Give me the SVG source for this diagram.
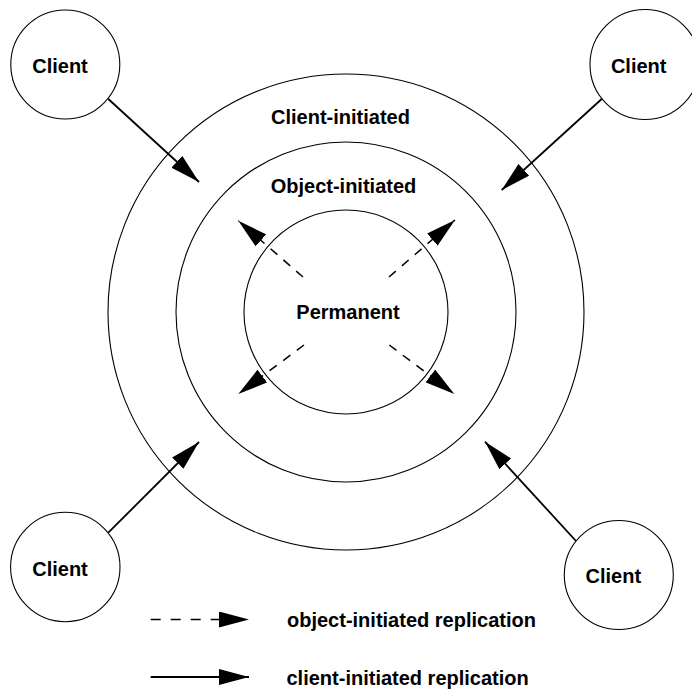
<svg xmlns="http://www.w3.org/2000/svg" width="692" height="690" viewBox="0 0 692 690">
<style>
.ring{fill:none;stroke:#000;stroke-width:1.1}
.node{fill:#fff;stroke:#000;stroke-width:1.1}
.lbl{font-family:"Liberation Sans",Arial,sans-serif;font-weight:bold;font-size:20px;fill:#000}
.mid{text-anchor:middle}
.solid{stroke:#000;stroke-width:1.8;fill:none;marker-end:url(#head)}
.dash{stroke:#000;stroke-width:1.5;fill:none;stroke-dasharray:9,8;marker-end:url(#head)}
.ldash{stroke-dasharray:10,10}
</style>
<defs>
<marker id="head" viewBox="0 0 30 16" markerWidth="30" markerHeight="16" refX="30" refY="8" orient="auto" markerUnits="userSpaceOnUse">
<path d="M0,0 L30,8 L0,16 Z" fill="#000"/>
</marker>
</defs>
<rect width="692" height="690" fill="#fff"/>
<g id="zone-client-initiated">
<circle class="ring" cx="346" cy="312" r="238"/>
<text class="lbl mid" x="340.5" y="124">Client-initiated</text>
</g>
<g id="zone-object-initiated">
<circle class="ring" cx="346" cy="312" r="170"/>
<text class="lbl mid" x="343.5" y="193">Object-initiated</text>
</g>
<g id="zone-permanent">
<circle class="ring" cx="346" cy="312" r="102"/>
<text class="lbl mid" x="348" y="319">Permanent</text>
</g>
<g id="client-tl">
<circle class="node" cx="65.3" cy="64.5" r="54.5"/>
<text class="lbl mid" x="60" y="72.7">Client</text>
</g>
<g id="client-tr">
<circle class="node" cx="645" cy="64.5" r="55"/>
<text class="lbl mid" x="638.7" y="72.7">Client</text>
</g>
<g id="client-bl">
<circle class="node" cx="65.3" cy="567" r="54.7"/>
<text class="lbl mid" x="60" y="576">Client</text>
</g>
<g id="client-br">
<circle class="node" cx="618.8" cy="575" r="54.5"/>
<text class="lbl mid" x="613.3" y="583.3">Client</text>
</g>
<g id="connectors">
<line class="solid" x1="108.3" y1="99" x2="199" y2="182"/>
<line class="solid" x1="601.7" y1="99" x2="501.7" y2="190"/>
<line class="solid" x1="108.3" y1="532.7" x2="199" y2="442"/>
<line class="solid" x1="576" y1="541" x2="485" y2="441.7"/>
<line class="dash" x1="303" y1="277" x2="238.3" y2="220.7"/>
<line class="dash" x1="389" y1="277" x2="455" y2="220"/>
<line class="dash" x1="304" y1="345" x2="238.3" y2="394"/>
<line class="dash" x1="389.3" y1="345" x2="454.3" y2="394"/>
</g>
<g id="legend">
<line class="dash ldash" x1="150.7" y1="619.5" x2="249" y2="619.5"/>
<text class="lbl" x="287" y="626.7">object-initiated replication</text>
<line class="solid" x1="150.7" y1="677" x2="249" y2="677"/>
<text class="lbl" x="286.5" y="685">client-initiated replication</text>
</g>
</svg>
